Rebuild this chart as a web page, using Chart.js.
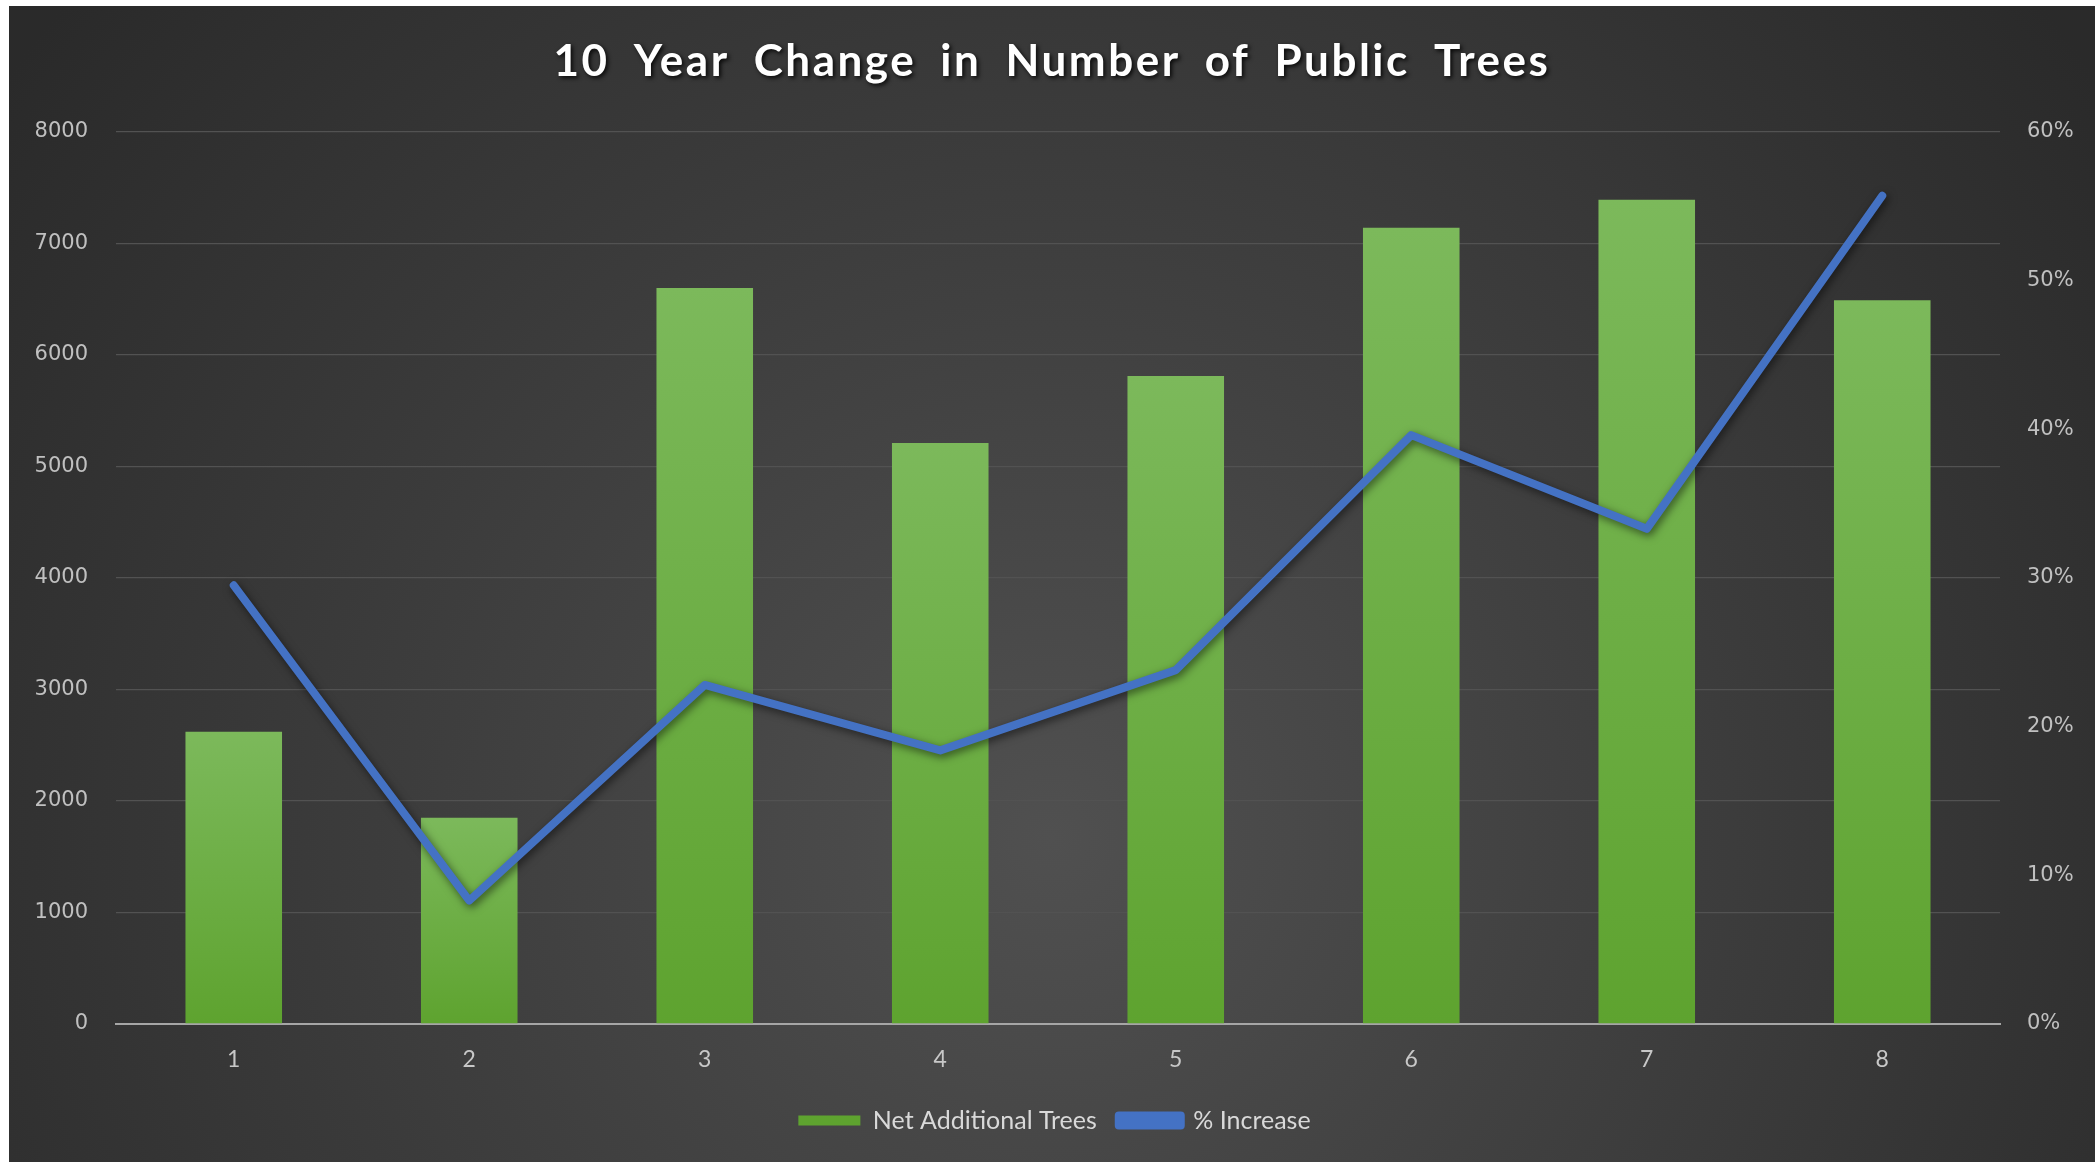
<!DOCTYPE html>
<html>
<head>
<meta charset="utf-8">
<script src="https://cdn.jsdelivr.net/npm/chart.js@4"></script>
<style>
  html, body { margin: 0; padding: 0; background: #ffffff; width: 2095px; height: 1162px; overflow: hidden; }
  #wrap { position: absolute; left: 9px; top: 6px; width: 2086px; height: 1156px; }
</style>
</head>
<body>
<div id="wrap"><canvas id="c"></canvas></div>
<script>
const chartTitle = '10 Year Change in Number of Public Trees';
const categories = ['1', '2', '3', '4', '5', '6', '7', '8'];
const netAdditionalTrees = [2620, 1850, 6600, 5210, 5810, 7140, 7390, 6490];
const percentIncrease = [0.295, 0.083, 0.228, 0.184, 0.238, 0.396, 0.333, 0.557];
const leftTicks = [0, 1000, 2000, 3000, 4000, 5000, 6000, 7000, 8000];
const rightTicks = [0, 0.1, 0.2, 0.3, 0.4, 0.5, 0.6];

const TITLE_SIZE = 44;
const TITLE_PAD_TOP = 15;

const bgPlugin = {
  id: 'bg',
  beforeDraw(chart) {
    const { ctx, width, height } = chart;
    ctx.save();
    const g = ctx.createRadialGradient(width * 0.5, height * 0.72, 0, width * 0.5, height * 0.72, width * 0.62);
    g.addColorStop(0, '#505050');
    g.addColorStop(1, '#2a2a2a');
    ctx.fillStyle = g;
    ctx.fillRect(0, 0, width, height);
    ctx.restore();
  }
};

const titlePlugin = {
  id: 'fancyTitle',
  afterDraw(chart) {
    const tb = chart.titleBlock;
    if (!tb) return;
    const ctx = chart.ctx;
    ctx.save();
    ctx.font = 'bold ' + TITLE_SIZE + 'px Lato';
    try { ctx.letterSpacing = '2.5px'; ctx.wordSpacing = '11px'; } catch (e) {}
    ctx.textAlign = 'center';
    ctx.textBaseline = 'middle';
    ctx.shadowColor = 'rgba(0,0,0,0.85)';
    ctx.shadowBlur = 4;
    ctx.shadowOffsetX = 2;
    ctx.shadowOffsetY = 2;
    ctx.fillStyle = '#ffffff';
    const cx = chart.width / 2;
    const cy = tb.top + TITLE_PAD_TOP + TITLE_SIZE * 1.2 / 2;
    ctx.fillText(chartTitle, cx, cy);
    ctx.restore();
  }
};

const shadowPlugin = {
  id: 'lineShadow',
  beforeDatasetDraw(chart, args) {
    if (args.index === 1) {
      chart.ctx.save();
      chart.ctx.shadowColor = 'rgba(0,0,0,0.55)';
      chart.ctx.shadowBlur = 8;
      chart.ctx.shadowOffsetX = 2;
      chart.ctx.shadowOffsetY = 3;
    }
  },
  afterDatasetDraw(chart, args) {
    if (args.index === 1) chart.ctx.restore();
  }
};

function barGradient(context) {
  const chart = context.chart;
  const ys = chart.scales && chart.scales.y;
  if (!ys || context.raw === undefined) return '#6aad3f';
  const top = ys.getPixelForValue(context.raw);
  const base = ys.getPixelForValue(0);
  if (!isFinite(top) || !isFinite(base)) return '#6aad3f';
  const g = chart.ctx.createLinearGradient(0, top, 0, base);
  g.addColorStop(0, '#7cb95b');
  g.addColorStop(1, '#5ea32f');
  return g;
}

new Chart(document.getElementById('c'), {
  data: {
    labels: categories,
    datasets: [
      {
        type: 'bar',
        label: 'Net Additional Trees',
        data: netAdditionalTrees,
        backgroundColor: barGradient,
        borderWidth: 0,
        barPercentage: 0.41,
        categoryPercentage: 1.0,
        yAxisID: 'y',
        order: 2
      },
      {
        type: 'line',
        label: '% Increase',
        data: percentIncrease,
        borderColor: '#4472c4',
        backgroundColor: '#4472c4',
        borderWidth: 8,
        pointRadius: 0,
        pointHoverRadius: 0,
        tension: 0,
        borderCapStyle: 'round',
        borderJoinStyle: 'round',
        yAxisID: 'y1',
        order: 1
      }
    ]
  },
  options: {
    responsive: true,
    maintainAspectRatio: false,
    animation: false,
    layout: { padding: { left: 26, right: 21, top: 14, bottom: 19 } },
    plugins: {
      title: {
        display: true,
        text: chartTitle,
        color: 'rgba(0,0,0,0)',
        font: { family: 'Lato', size: TITLE_SIZE, weight: 'bold' },
        padding: { top: TITLE_PAD_TOP, bottom: 44 }
      },
      legend: {
        position: 'bottom',
        labels: {
          color: '#d9d9d9',
          font: { family: 'Lato', size: 25 },
          boxWidth: 62,
          boxHeight: 10,
          padding: 22,
          sort: (a, b) => a.datasetIndex - b.datasetIndex
        }
      },
      tooltip: { enabled: false }
    },
    scales: {
      x: {
        grid: { display: false, drawTicks: false },
        border: { display: true, color: '#a6a6a6', width: 2 },
        ticks: { color: '#c8c8c8', font: { family: 'Lato', size: 23 }, padding: 22 },
        afterFit(axis) { axis.height = 62; }
      },
      y: {
        position: 'left',
        min: 0,
        max: 8000,
        afterBuildTicks(axis) { axis.ticks = leftTicks.map(v => ({ value: v })); },
        afterFit(axis) { axis.width = 81; },
        grid: { color: '#525252', lineWidth: 1.3, drawTicks: false },
        border: { display: false },
        ticks: {
          color: '#c0c0c0',
          font: { family: 'DejaVu Sans', size: 21 },
          padding: 28,
          callback: v => String(v)
        }
      },
      y1: {
        position: 'right',
        min: 0,
        max: 0.6,
        afterBuildTicks(axis) { axis.ticks = rightTicks.map(v => ({ value: v })); },
        afterFit(axis) { axis.width = 74; },
        grid: { display: false, drawTicks: false },
        border: { display: false },
        ticks: {
          color: '#c0c0c0',
          font: { family: 'DejaVu Sans', size: 21 },
          padding: 27,
          callback: v => Math.round(v * 100) + '%'
        }
      }
    }
  },
  plugins: [bgPlugin, shadowPlugin, titlePlugin]
});
</script>
</body>
</html>
